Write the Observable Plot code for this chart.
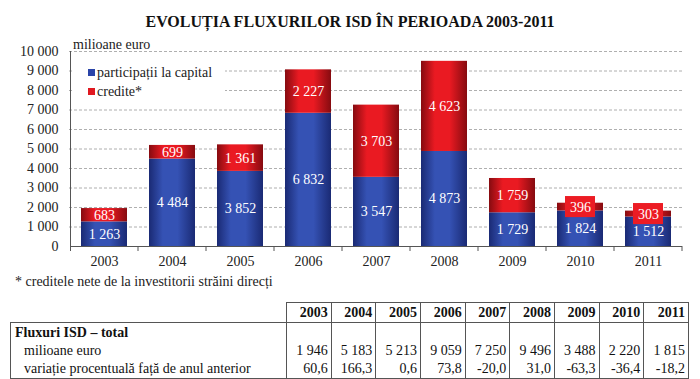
<!DOCTYPE html>
<html><head><meta charset="utf-8">
<script src="https://cdn.jsdelivr.net/npm/d3@7"></script>
<script src="https://cdn.jsdelivr.net/npm/@observablehq/plot@0.6"></script>
<style>
body{margin:0;background:#fff;font-family:"Liberation Serif","Times New Roman",serif;color:#222}
#wrap, #wrap *{font-family:"Liberation Serif","Times New Roman",serif}
#wrap{position:relative;width:700px;height:379px;overflow:hidden;background:#fff}
#title{position:absolute;top:13px;left:0;width:700px;text-align:center;font-weight:bold;font-size:16px;line-height:18px;color:#111}
#chart{position:absolute;top:36px;left:0}
#unit{position:absolute;left:73px;top:37px;font-size:14px;line-height:16px}
#legend{position:absolute;left:74px;top:62px;width:151px;height:40px;background:#fff;font-size:14px}
#legend .it{position:absolute;left:14px;height:16px;line-height:16px;white-space:nowrap}
#legend .sw{display:inline-block;width:7px;height:7px;margin-right:2px;vertical-align:1px}
#note{position:absolute;left:15px;top:274px;font-size:14px;line-height:16px}
#tbl{position:absolute;left:10px;top:302px;border-collapse:collapse;table-layout:fixed;font-size:14px;color:#111}
#tbl th{border:1px solid #555;height:19px;padding:0 3px;text-align:right;font-weight:bold;line-height:16px}
#tbl th.blank{border:none;border-bottom:1px solid #555}
#tbl td{border-left:1px solid #555;border-right:1px solid #555;padding:0 3px;text-align:right;height:18px;line-height:16px;white-space:nowrap}
#tbl tbody tr:first-child td{border-top:1px solid #555;height:19px}
#tbl tbody tr:last-child td{border-bottom:1px solid #555}
#tbl td.lab{text-align:left;padding-left:4px}
#tbl td.ind{padding-left:13px}
#tbl td.b{font-weight:bold}
svg text{font-family:"Liberation Serif","Times New Roman",serif}
</style></head>
<body>
<div id="wrap">
  <div id="title">EVOLUȚIA FLUXURILOR ISD ÎN PERIOADA 2003-2011</div>
  <div id="chart"></div>
  <div id="unit">milioane euro</div>
  <div id="legend"></div>
  <div id="note">* creditele nete de la investitorii străini direcți</div>
  <table id="tbl"></table>
</div>
<script>
const years = ["2003","2004","2005","2006","2007","2008","2009","2010","2011"];
const participatii = [1263, 4484, 3852, 6832, 3547, 4873, 1729, 1824, 1512];
const credite = [683, 699, 1361, 2227, 3703, 4623, 1759, 396, 303];
const totaluri = [1946, 5183, 5213, 9059, 7250, 9496, 3488, 2220, 1815];
const variatie = [60.6, 166.3, 0.6, 73.8, -20.0, 31.0, -63.3, -36.4, -18.2];
const yTicks = [0,1000,2000,3000,4000,5000,6000,7000,8000,9000,10000];
const seriesNames = ["participații la capital", "credite*"];
const tableRows = ["Fluxuri ISD – total", "milioane euro", "variație procentuală față de anul anterior"];

const FONT = "Liberation Serif, Times New Roman, serif";
const fmt = v => d3.format(",")(v).replace(/,/g, " ");
const fmtPct = v => v.toFixed(1).replace(".", ",");
const rows = years.map((year, i) => ({year, p: participatii[i], c: credite[i]}));

const plot = Plot.plot({
  width: 700, height: 236,
  marginTop: 15, marginBottom: 26, marginLeft: 69, marginRight: 17,
  style: {fontFamily: FONT, fontSize: "14px", color: "#222", background: "transparent"},
  x: {domain: years, paddingInner: 0.33, paddingOuter: 0.165, label: null},
  y: {domain: [0, 10000], label: null},
  marks: [
    Plot.ruleY(yTicks.filter(d => d > 0), {stroke: "#9a9a9a", strokeDasharray: "3,2", strokeWidth: 0.8}),
    Plot.axisY(yTicks, {tickSize: 0, tickPadding: 11, tickFormat: fmt, label: null, fill: "#222", fontFamily: FONT, fontSize: 14}),
    Plot.axisX({tickSize: 0, tickPadding: 10, label: null, fill: "#222", fontFamily: FONT, fontSize: 14}),
    Plot.barY(rows, {x: "year", y1: 0, y2: "p", fill: "url(#gBlue)"}),
    Plot.barY(rows, {x: "year", y1: "p", y2: d => d.p + d.c, fill: "url(#gRed)"}),
    Plot.barY(rows.filter(d => d.c < 500), {x: "year", y1: d => d.p + d.c / 2 - 540, y2: d => d.p + d.c / 2 + 540, fill: "#ec1c24", insetLeft: 8, insetRight: 8}),
    Plot.text(rows, {x: "year", y: d => d.p / 2, text: d => fmt(d.p), fill: "white", fontSize: 14, fontFamily: FONT}),
    Plot.text(rows, {x: "year", y: d => d.p + d.c / 2, text: d => fmt(d.c), fill: "white", fontSize: 14, fontFamily: FONT})
  ]
});

const svg = d3.select(plot);
const defs = svg.insert("defs", ":first-child");
function grad(id, edge, mid) {
  const g = defs.append("linearGradient").attr("id", id).attr("x1", 0).attr("x2", 1).attr("y1", 0).attr("y2", 0);
  [[0, edge], [0.3, mid], [0.62, mid], [1, edge]].forEach(([o, c]) => g.append("stop").attr("offset", o).attr("stop-color", c));
}
grad("gBlue", "#1a2a74", "#3552b4");
grad("gRed", "#860b10", "#ea1a22");

const sx = plot.scale("x"), sy = plot.scale("y");
const bw = sx.bandwidth;
const starts = years.map(y => sx.apply(y));
const step = starts[1] - starts[0];
const left = starts[0] - (step - bw) / 2;
const y0 = sy.apply(0), yTop = sy.apply(10000);
const bounds = d3.range(years.length + 1).map(k => left + k * step);
const right = bounds[bounds.length - 1];
const g = svg.append("g").attr("stroke", "#555").attr("stroke-width", 1);
g.append("line").attr("x1", left + 0.5).attr("x2", left + 0.5).attr("y1", yTop).attr("y2", y0 + 5);
g.append("line").attr("x1", left).attr("x2", right).attr("y1", y0 + 0.5).attr("y2", y0 + 0.5);
bounds.slice(1).forEach(b => g.append("line").attr("x1", b).attr("x2", b).attr("y1", y0).attr("y2", y0 + 5));

document.getElementById("chart").appendChild(plot);

// legend
const colors = ["#2a44a8", "#e01820"];
const leg = document.getElementById("legend");
seriesNames.forEach((name, i) => {
  const d = document.createElement("div");
  d.className = "it";
  d.style.top = (3 + i * 19) + "px";
  d.innerHTML = `<span class="sw" style="background:${colors[i]}"></span>${name}`;
  leg.appendChild(d);
});

// table
const tbl = document.getElementById("tbl");
let html = `<colgroup><col style="width:276px">${years.map(() => '<col style="width:44.67px">').join("")}</colgroup>`;
html += `<thead><tr><th class="blank"></th>${years.map(y => `<th>${y}</th>`).join("")}</tr></thead><tbody>`;
html += `<tr><td class="lab b">${tableRows[0]}</td>${years.map(() => "<td></td>").join("")}</tr>`;
html += `<tr><td class="lab ind">${tableRows[1]}</td>${totaluri.map(v => `<td>${fmt(v)}</td>`).join("")}</tr>`;
html += `<tr><td class="lab ind">${tableRows[2]}</td>${variatie.map(v => `<td>${fmtPct(v)}</td>`).join("")}</tr>`;
html += `</tbody>`;
tbl.innerHTML = html;
</script>
</body></html>
